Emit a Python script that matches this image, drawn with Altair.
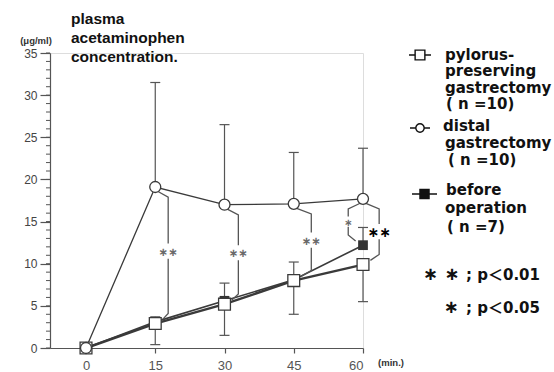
import altair as alt
import pandas as pd

# ---------------- data ----------------
times = [0, 15, 30, 45, 60]
distal = [0.0, 19.1, 17.0, 17.1, 17.7]
pylorus = [0.0, 2.9, 5.2, 8.0, 9.9]
before = [0.0, 3.1, 5.6, 8.1, 12.2]

distal_upper = [None, 31.5, 26.5, 23.2, 23.7]
pylorus_lower = [None, 0.4, 1.5, 4.0, 5.5]
before_upper = [None, 3.7, 7.7, 10.2, 14.3]

# significance brackets: (time, top value, bottom value, side offset in min, label y, label)
brackets = [
    (15, 19.1, 2.9, 2.8, 11.5, "**"),
    (30, 17.0, 5.2, 3.0, 11.3, "**"),
    (45, 17.1, 8.0, 3.8, 12.8, "**"),
    (60, 17.7, 12.2, -3.2, 15.0, "*"),
    (60, 17.7, 9.9, 3.5, 13.8, "**"),
]

x_ticks = [0, 15, 30, 45, 60]
y_ticks = [0, 5, 10, 15, 20, 25, 30, 35]
y_minor = list(range(0, 36))

LINE = "#3a3a3a"
GRAY = "#555555"
FONT = "Liberation Sans"
LFONT = "DejaVu Sans"
STAR = "∗"

W, H = 313, 295
PL, PT = 50, 53

# ---------------- tables ----------------
rows = []
for name, vals in [("distal", distal), ("pylorus", pylorus), ("before", before)]:
    for t, v in zip(times, vals):
        rows.append({"t": t, "v": v, "s": name})
df = pd.DataFrame(rows)

err_rows = []
for name, means, ends in [("distal", distal, distal_upper),
                          ("pylorus", pylorus, pylorus_lower),
                          ("before", before, before_upper)]:
    for t, m, e in zip(times, means, ends):
        if e is not None:
            err_rows.append({"t": t, "m": m, "e": e, "s": name})
err = pd.DataFrame(err_rows)

br_rows = []
lab_rows = []
for i, (t, top, bot, off, ly, lab) in enumerate(brackets):
    sgn = 1 if off > 0 else -1
    xv = t + off
    gap = 0.6 if lab == "*" else 0.9
    seg_a = [(t + sgn * 0.5, top - 0.5), (xv, top - 1.2), (xv, ly + gap)]
    seg_b = [(xv, ly - gap), (xv, bot + 1.2), (t + sgn * 1.6, bot + 0.5)]
    for j, seg in enumerate([seg_a, seg_b]):
        for k, (x, y) in enumerate(seg):
            br_rows.append({"x": x, "y": y, "g": f"{i}-{j}", "o": k})
    black = (t == 60 and lab == "**")
    lab_rows.append({"x": xv, "y": ly, "lab": STAR * len(lab),
                     "c": "#000000" if black else "#6a6a6a",
                     "fs": 14 if black else (10 if lab == "*" else 11.5)})
br = pd.DataFrame(br_rows)
labs = pd.DataFrame(lab_rows)

xs = alt.Scale(domain=[-7.8, 60], nice=False, zero=False)
ys = alt.Scale(domain=[0, 35], nice=False)

x_axis = alt.Axis(values=x_ticks, title=None, grid=False, tickSize=5, tickColor=GRAY,
                  domainColor=GRAY, domainWidth=1.2, tickWidth=1.2, labelColor=GRAY,
                  labelFont=FONT, labelFontSize=13, labelPadding=6)
y_axis = alt.Axis(values=y_ticks, title=None, grid=False, tickSize=10, tickColor=GRAY,
                  domainColor=GRAY, domainWidth=1.2, tickWidth=1.2, labelColor="#444444",
                  labelFont=FONT, labelFontSize=12, labelPadding=3)


def X(f="t"):
    return alt.X(f"{f}:Q", scale=xs, axis=x_axis)


def Y(f="v"):
    return alt.Y(f"{f}:Q", scale=ys, axis=y_axis)


base = alt.Chart(df)

minor = alt.Chart(pd.DataFrame({"v": y_minor})).mark_rule(color=GRAY, strokeWidth=1).encode(
    y=Y("v"), x=alt.value(-4), x2=alt.value(0))

line_d = base.transform_filter("datum.s=='distal'").mark_line(color=LINE, strokeWidth=1.3).encode(x=X(), y=Y())
line_p = base.transform_filter("datum.s=='pylorus'").mark_line(color=LINE, strokeWidth=2.4).encode(x=X(), y=Y())
line_b = base.transform_filter("datum.s=='before'").mark_line(color=LINE, strokeWidth=1.6).encode(x=X(), y=Y())

ebar = alt.Chart(err).mark_rule(color=GRAY, strokeWidth=1.2).encode(x=X(), y=Y("m"), y2=alt.Y2("e:Q"))
ecap = alt.Chart(err).mark_rule(color=GRAY, strokeWidth=1.2, xOffset=-5, x2Offset=5).encode(
    x=X(), x2=alt.X2("t:Q"), y=Y("e"))

brk = alt.Chart(br).mark_line(color=GRAY, strokeWidth=1.3).encode(
    x=X("x"), y=Y("y"), detail="g:N", order="o:Q")
stars = alt.Chart(labs).mark_text(font=LFONT, fontWeight="bold", baseline="middle", dy=1.5).encode(
    x=X("x"), y=Y("y"), text="lab:N",
    color=alt.Color("c:N", scale=None), size=alt.Size("fs:Q", scale=None))

pt_b = base.transform_filter("datum.s=='before'").mark_point(
    shape="square", filled=True, color="#333333", size=95, opacity=1).encode(x=X(), y=Y())
pt_p = base.transform_filter("datum.s=='pylorus'").mark_point(
    shape="square", filled=True, fill="white", stroke=LINE, strokeWidth=1.3, size=140, opacity=1).encode(x=X(), y=Y())
pt_d = base.transform_filter("datum.s=='distal'").mark_point(
    shape="circle", filled=True, fill="white", stroke=LINE, strokeWidth=1.3, size=121, opacity=1).encode(x=X(), y=Y())


# ---------------- text & legend (pixel layout) ----------------
def px(ax, ay):
    return ax - PL, ay - PT


def PX():
    return alt.X("x:Q", scale=None)


def PY():
    return alt.Y("y:Q", scale=None)


title_lines = ["plasma", "acetaminophen", "concentration."]
title_rows = []
for s, by in zip(title_lines, [23.5, 42.5, 61.5]):
    x, y = px(71, by)
    title_rows.append({"x": x, "y": y, "txt": s})
title = alt.Chart(pd.DataFrame(title_rows)).mark_text(
    align="left", baseline="alphabetic", font=FONT, fontSize=15.5, fontWeight="bold", color="#111111").encode(
    x=PX(), y=PY(), text="txt:N")

units_rows = []
for s, ax, ay in [("(μg/ml)", 36, 44), ("(min.)", 391, 366)]:
    x, y = px(ax, ay)
    units_rows.append({"x": x, "y": y, "txt": s})
units = alt.Chart(pd.DataFrame(units_rows)).mark_text(
    align="center", baseline="alphabetic", font=FONT, fontSize=9.5, fontWeight="bold", color="#333333").encode(
    x=PX(), y=PY(), text="txt:N")

leg_lines = [
    ("pylorus-", 445, 59.5), ("preserving", 445, 76), ("gastrectomy", 445, 92.5), ("( n =10)", 446, 109),
    ("distal", 443, 131), ("gastrectomy", 445, 147.5), ("( n =10)", 448, 165),
    ("before", 446, 194.5), ("operation", 445, 213), ("( n =7)", 447, 231.5),
]
leg_rows = []
for s, ax, ay in leg_lines:
    x, y = px(ax, ay)
    leg_rows.append({"x": x, "y": y, "txt": s})
leg_text = alt.Chart(pd.DataFrame(leg_rows)).mark_text(
    align="left", baseline="alphabetic", font=LFONT, fontSize=15, fontWeight="bold", color="#111111").encode(
    x=PX(), y=PY(), text="txt:N")

# significance key: stars and text drawn separately so the stars can be larger
sig_rows = []
for s, ay in [("; p＜0.01", 280), ("; p＜0.05", 313)]:
    x, y = px(540, ay)
    sig_rows.append({"x": x, "y": y, "txt": s})
sig_text = alt.Chart(pd.DataFrame(sig_rows)).mark_text(
    align="right", baseline="alphabetic", font=LFONT + ", Noto Sans CJK JP", fontSize=15, fontWeight="bold",
    color="#111111").encode(x=PX(), y=PY(), text="txt:N")

key_rows = []
for s, ax, ay in [(STAR + " " + STAR, 441, 275), (STAR, 451, 308)]:
    x, y = px(ax, ay)
    key_rows.append({"x": x, "y": y, "txt": s})
key_stars = alt.Chart(pd.DataFrame(key_rows)).mark_text(
    align="center", baseline="middle", font=LFONT, fontSize=18, fontWeight="bold", dy=0,
    color="#111111").encode(x=PX(), y=PY(), text="txt:N")

sym_lines = []
for (a, b, ay) in [(409, 431, 55), (410, 430, 128), (412, 437, 194)]:
    x1, y1 = px(a, ay)
    x2, _ = px(b, ay)
    sym_lines.append({"x": x1, "x2": x2, "y": y1})
leg_seg = alt.Chart(pd.DataFrame(sym_lines)).mark_rule(color="#111111", strokeWidth=1.5).encode(
    x=PX(), x2="x2:Q", y=PY())

sym_rows = []
for kind, ax, ay in [("open", 420, 55), ("circle", 420, 128), ("filled", 424.5, 194)]:
    x, y = px(ax, ay)
    sym_rows.append({"x": x, "y": y, "k": kind})
sym = pd.DataFrame(sym_rows)
leg_open = alt.Chart(sym).transform_filter("datum.k=='open'").mark_point(
    shape="square", filled=True, fill="white", stroke="#111111", strokeWidth=1.4, size=95, opacity=1).encode(
    x=PX(), y=PY())
leg_circ = alt.Chart(sym).transform_filter("datum.k=='circle'").mark_point(
    shape="circle", filled=True, fill="white", stroke="#111111", strokeWidth=1.4, size=70, opacity=1).encode(
    x=PX(), y=PY())
leg_fill = alt.Chart(sym).transform_filter("datum.k=='filled'").mark_point(
    shape="square", filled=True, color="#111111", size=110, opacity=1).encode(
    x=PX(), y=PY())

chart = alt.layer(
    minor, line_d, line_p, line_b, ebar, ecap, brk, stars,
    pt_b, pt_p, pt_d,
    title, units, leg_text, sig_text, key_stars, leg_seg, leg_open, leg_circ, leg_fill,
).properties(
    width=W, height=H,
    padding={"left": PL, "top": PT, "right": 554 - PL - W, "bottom": 372 - PT - H},
    autosize=alt.AutoSizeParams(type="none"),
).configure_view(stroke=None).configure(background="white")

chart.save("out.html", embed_options={"renderer": "svg", "actions": False})
